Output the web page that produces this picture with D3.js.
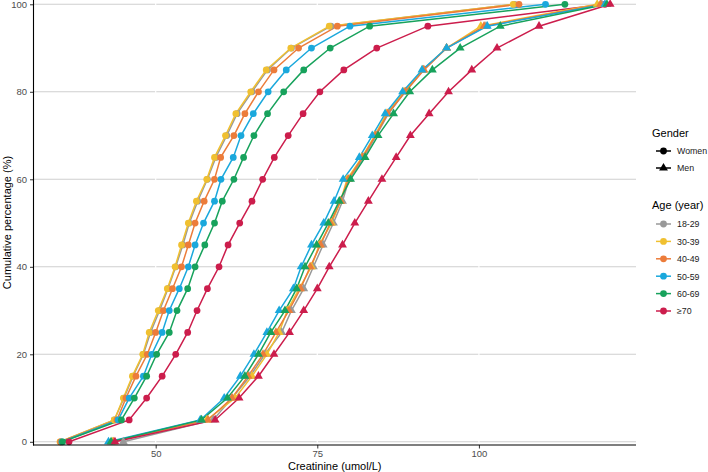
<!DOCTYPE html>
<html>
<head>
<meta charset="utf-8">
<script src="https://cdn.jsdelivr.net/npm/d3@7"></script>
<style>
    body { margin: 0; background: #fff; }
    text { font-family: "Liberation Sans", Arial, sans-serif; }
</style>
</head>
<body>
<script>
// cumulative percentage levels (y values shared by every curve)
const percentiles = [0, 5, 10, 15, 20, 25, 30, 35, 40, 45, 50, 55, 60, 65, 70, 75, 80, 85, 90, 95, 100];

const ageGroups = ["18-29", "30-39", "40-49", "50-59", "60-69", "≥70"];
const ageColors = ["#999999", "#f0c030", "#ec7c3a", "#1aa8dc", "#17a25c", "#cc1d4c"];
const genders = ["Women", "Men"];

// creatinine (umol/L) at each percentile, women
const women1829 = [35.3, 43.6, 45.1, 46.5, 48.1, 49.2, 50.6, 51.9, 53.1, 54.2, 55.2, 56.5, 58.0, 59.3, 61.0, 62.6, 64.9, 67.3, 71.0, 77.1, 105.5];
const women3039 = [35.2, 43.6, 45.0, 46.4, 48.0, 49.0, 50.4, 51.8, 53.0, 54.0, 55.05, 56.3, 57.9, 59.1, 60.8, 62.4, 64.7, 67.1, 70.9, 76.85, 105.3];
const women4049 = [35.3, 44.0, 45.4, 46.95, 48.7, 50.0, 51.2, 52.6, 54.0, 55.05, 56.1, 57.5, 59.1, 60.05, 62.1, 63.8, 65.9, 68.3, 72.1, 78.1, 106.2];
const women5059 = [35.5, 44.2, 45.9, 48.1, 49.4, 51.0, 52.1, 53.65, 55.05, 56.1, 57.4, 59.1, 60.1, 62.0, 63.2, 65.1, 67.4, 70.2, 74.1, 80.05, 110.3];
const women6069 = [35.6, 44.7, 46.7, 48.6, 50.15, 52.1, 53.3, 54.95, 56.1, 57.6, 59.1, 60.3, 62.1, 63.6, 65.2, 67.3, 69.8, 72.9, 77.0, 83.1, 113.3];
const women70 = [36.6, 45.9, 48.6, 51.0, 53.1, 54.95, 56.4, 58.0, 59.8, 61.2, 63.0, 64.9, 66.55, 68.35, 70.5, 72.8, 75.4, 79.1, 84.2, 92.1, 119.5];

// creatinine (umol/L) at each percentile, men
const men1829 = [45.0, 58.9, 61.8, 64.6, 66.9, 69.5, 71.0, 72.9, 74.4, 75.9, 77.5, 78.9, 79.9, 82.2, 84.1, 86.0, 88.6, 91.4, 95.0, 101.1, 119.0];
const men3039 = [43.3, 57.9, 62.3, 64.9, 67.2, 69.1, 70.35, 72.2, 74.1, 75.3, 77.2, 78.6, 79.6, 81.9, 83.9, 85.7, 88.4, 91.3, 95.0, 100.3, 118.3];
const men4049 = [43.5, 58.1, 61.8, 64.3, 66.6, 68.6, 70.6, 72.4, 73.9, 75.5, 77.0, 78.6, 79.8, 82.0, 84.0, 85.9, 88.6, 91.5, 95.0, 100.8, 118.8];
const men5059 = [42.7, 56.9, 60.6, 63.1, 65.2, 67.2, 69.1, 71.3, 72.5, 74.1, 76.0, 77.6, 79.0, 81.5, 83.5, 85.5, 88.2, 91.2, 95.0, 101.3, 119.5];
const men6069 = [43.1, 57.1, 61.1, 63.8, 65.9, 67.8, 70.0, 71.8, 73.1, 74.9, 76.7, 78.4, 80.15, 82.4, 84.4, 86.8, 89.3, 92.8, 97.1, 103.3, 119.8];
const men70 = [43.7, 59.2, 62.9, 65.9, 68.3, 70.7, 72.9, 75.0, 76.85, 78.9, 80.8, 82.9, 85.0, 87.2, 89.4, 92.3, 95.3, 98.9, 102.8, 109.3, 120.3];

const xTicks = [50, 75, 100];
const yTicks = [0, 20, 40, 60, 80, 100];

const womenSeries = [women1829, women3039, women4049, women5059, women6069, women70];
const menSeries = [men1829, men3039, men4049, men5059, men6069, men70];

const width = 708;
const height = 472;
const panel = { left: 33.5, right: 636, top: 0, bottom: 445 };

function drawChart() {
    const svg = d3.select("body").append("svg")
        .attr("width", width)
        .attr("height", height);

    const xScale = d3.scaleLinear()
        .domain([31.1, 124.3])
        .range([panel.left, panel.right]);

    const yScale = d3.scaleLinear()
        .domain([-0.73, 100.98])
        .range([panel.bottom, panel.top]);

    // horizontal grid
    svg.append("g")
        .selectAll("line")
        .data(yTicks)
        .enter().append("line")
        .attr("x1", panel.left)
        .attr("x2", panel.right)
        .attr("y1", d => yScale(d))
        .attr("y2", d => yScale(d))
        .attr("stroke", "#cfcfcf")
        .attr("stroke-width", 1.1);

    // faint vertical grid (white over the horizontal lines)
    svg.append("g")
        .selectAll("line")
        .data(xTicks)
        .enter().append("line")
        .attr("x1", d => xScale(d))
        .attr("x2", d => xScale(d))
        .attr("y1", panel.top)
        .attr("y2", panel.bottom)
        .attr("stroke", "#ffffff")
        .attr("stroke-width", 1.2);

    const rows = [];
    genders.forEach((g, gi) => {
        const series = gi === 0 ? womenSeries : menSeries;
        series.forEach((vals, ai) => {
            rows.push({
                gender: g,
                age: ageGroups[ai],
                color: ageColors[ai],
                points: vals.map((v, i) => ({ x: v, y: percentiles[i] }))
            });
        });
    });

    const line = d3.line()
        .x(d => xScale(d.x))
        .y(d => yScale(d.y));

    svg.append("g")
        .selectAll("path")
        .data(rows)
        .enter().append("path")
        .attr("d", d => line(d.points))
        .attr("fill", "none")
        .attr("stroke", d => d.color)
        .attr("stroke-width", 1.5);

    const circle = d3.symbol().type(d3.symbolCircle).size(36);
    const triangle = d3.symbol().type(d3.symbolTriangle).size(34);

    const pointGroups = svg.append("g")
        .selectAll("g")
        .data(rows)
        .enter().append("g")
        .attr("fill", d => d.color);

    pointGroups.selectAll("path")
        .data(d => d.points.map(p => Object.assign({ gender: d.gender }, p)))
        .enter().append("path")
        .attr("transform", d => "translate(" + xScale(d.x) + "," + yScale(d.y) + ")")
        .attr("d", d => d.gender === "Women" ? circle() : triangle());

    // axes
    const xAxis = d3.axisBottom(xScale).tickValues(xTicks).tickSize(3.5).tickPadding(2);
    const yAxis = d3.axisLeft(yScale).tickValues(yTicks).tickSize(3.5).tickPadding(3);

    const gx = svg.append("g")
        .attr("transform", "translate(0," + panel.bottom + ")")
        .call(xAxis);
    const gy = svg.append("g")
        .attr("transform", "translate(" + panel.left + ",0)")
        .call(yAxis);

    [gx, gy].forEach(g => {
        g.select(".domain").remove();
        g.selectAll(".tick line").attr("stroke", "#333333");
        g.selectAll(".tick text")
            .attr("fill", "#4d4d4d")
            .style("font-size", "9.5px")
            .style("font-family", "'Liberation Sans', Arial, sans-serif");
    });

    svg.append("line")
        .attr("x1", panel.left).attr("x2", panel.left)
        .attr("y1", panel.top).attr("y2", panel.bottom + 0.5)
        .attr("stroke", "#000").attr("stroke-width", 1.1);
    svg.append("line")
        .attr("x1", panel.left - 0.5).attr("x2", panel.right)
        .attr("y1", panel.bottom).attr("y2", panel.bottom)
        .attr("stroke", "#000").attr("stroke-width", 1.1);

    svg.append("text")
        .attr("x", (panel.left + panel.right) / 2)
        .attr("y", 469.5)
        .attr("text-anchor", "middle")
        .style("font-size", "11px")
        .text("Creatinine (umol/L)");

    svg.append("text")
        .attr("transform", "translate(11," + ((panel.top + panel.bottom) / 2) + ") rotate(-90)")
        .attr("text-anchor", "middle")
        .style("font-size", "11px")
        .text("Cumulative percentage (%)");

    // legend: gender
    const legend = svg.append("g").attr("id", "legend");
    legend.append("text")
        .attr("x", 652).attr("y", 137)
        .style("font-size", "11px")
        .text("Gender");

    const genderKeys = legend.selectAll(".gender-key")
        .data(genders)
        .enter().append("g")
        .attr("class", "gender-key")
        .attr("transform", (d, i) => "translate(0," + (151 + i * 17) + ")");
    genderKeys.append("line")
        .attr("x1", 656).attr("x2", 671)
        .attr("stroke", "#000").attr("stroke-width", 1.5);
    genderKeys.append("path")
        .attr("transform", "translate(663.5,0)")
        .attr("d", d => d === "Women" ? circle() : triangle());
    genderKeys.append("text")
        .attr("x", 677).attr("y", 3.3)
        .style("font-size", "8.8px")
        .attr("fill", "#1a1a1a")
        .text(d => d);

    // legend: age
    legend.append("text")
        .attr("x", 652).attr("y", 209)
        .style("font-size", "11px")
        .text("Age (year)");

    const ageKeys = legend.selectAll(".age-key")
        .data(ageGroups)
        .enter().append("g")
        .attr("class", "age-key")
        .attr("transform", (d, i) => "translate(0," + (224 + i * 17.4) + ")");
    ageKeys.append("line")
        .attr("x1", 656).attr("x2", 671)
        .attr("stroke", (d, i) => ageColors[i]).attr("stroke-width", 1.5);
    ageKeys.append("path")
        .attr("transform", "translate(663.5,0)")
        .attr("fill", (d, i) => ageColors[i])
        .attr("d", circle());
    ageKeys.append("text")
        .attr("x", 677).attr("y", 3.3)
        .style("font-size", "8.8px")
        .attr("fill", "#1a1a1a")
        .text(d => d);
}

document.addEventListener("DOMContentLoaded", () => drawChart());
</script>
</body>
</html>
